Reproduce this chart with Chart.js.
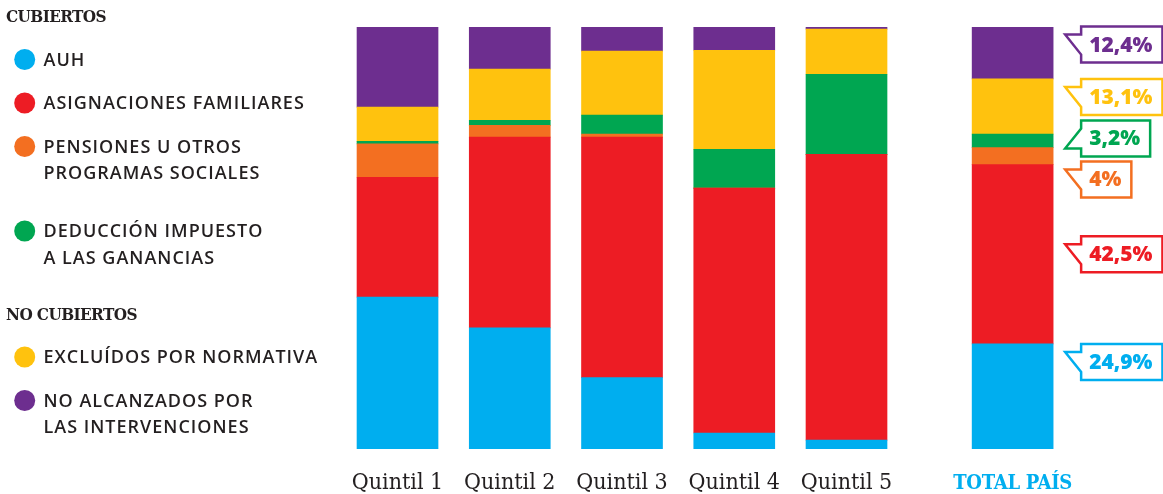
<!DOCTYPE html>
<html>
<head>
<meta charset="utf-8">
<script src="https://cdn.jsdelivr.net/npm/chart.js@4"></script>
<style>
  html, body { margin: 0; padding: 0; background: #fff; }
  #wrap { width: 1163px; height: 494px; position: relative; }
</style>
</head>
<body>
<div id="wrap"><canvas id="chart"></canvas></div>
<script>
// Categories (Total sits about one and a half slots after Quintil 5)
const categories = ['Quintil 1', 'Quintil 2', 'Quintil 3', 'Quintil 4', 'Quintil 5', 'TOTAL PAÍS'];
const categoryX = [0, 1, 2, 3, 4, 5.48];

// Series (% of each group), bottom to top
const auh          = [36.0, 28.7, 16.9,  3.8,  2.1, 24.9];
const asignaciones = [28.4, 45.2, 57.0, 58.0, 67.7, 42.5];
const pensiones    = [ 7.9,  2.8,  0.7,  0.0,  0.0,  4.0];
const deduccion    = [ 0.6,  1.2,  4.5,  9.2, 19.0,  3.2];
const excluidos    = [ 8.1, 12.1, 15.2, 23.5, 10.7, 13.1];
const noAlcanzados = [19.0, 10.0,  5.7,  5.5,  0.5, 12.4];

const seriesLabels = [
    ['AUH'],
    ['ASIGNACIONES FAMILIARES'],
    ['PENSIONES U OTROS', 'PROGRAMAS SOCIALES'],
    ['DEDUCCIÓN IMPUESTO', 'A LAS GANANCIAS'],
    ['EXCLUÍDOS POR NORMATIVA'],
    ['NO ALCANZADOS POR', 'LAS INTERVENCIONES']
];
const seriesColors = ['#00aeef', '#ed1c24', '#f36f21', '#00a651', '#ffc20e', '#6d2e8f'];
const legendGroups = [
    { title: 'CUBIERTOS', items: [0, 1, 2, 3] },
    { title: 'NO CUBIERTOS', items: [4, 5] }
];

const seriesValues = [auh, asignaciones, pensiones, deduccion, excluidos, noAlcanzados];
const TEXT = '#231f20';
const SLAB = '"DejaVu Serif Condensed", "DejaVu Serif", serif';

function fmtPct(v) {
    return String(v).replace('.', ',') + '%';
}

// Left-hand legend, drawn on the canvas
const legendPlugin = {
    id: 'sideLegend',
    afterDraw(chart) {
        const ctx = chart.ctx;
        ctx.save();
        ctx.textBaseline = 'middle';
        let y = 18;
        legendGroups.forEach(group => {
            ctx.fillStyle = TEXT;
            ctx.font = 'bold 17px ' + SLAB;
            ctx.letterSpacing = '-0.6px';
            ctx.fillText(group.title, 6, y);
            y += 41.5;
            group.items.forEach(idx => {
                const lines = seriesLabels[idx];
                ctx.fillStyle = seriesColors[idx];
                ctx.beginPath();
                ctx.arc(24.7, y, 10.5, 0, Math.PI * 2);
                ctx.fill();
                ctx.fillStyle = TEXT;
                ctx.font = '600 18px "Open Sans", sans-serif';
                ctx.letterSpacing = '1px';
                lines.forEach((line, l) => ctx.fillText(line, 43.5, y + l * 26.5 + 1));
                const last = y + (lines.length - 1) * 26.5;
                y = lines.length > 1 ? last + 58 : last + 43.5;
            });
        });
        ctx.restore();
    }
};

// Category labels under the bars
const xLabelsPlugin = {
    id: 'xLabels',
    afterDraw(chart) {
        const ctx = chart.ctx;
        const xs = chart.scales.x;
        ctx.save();
        ctx.textAlign = 'center';
        ctx.textBaseline = 'alphabetic';
        categories.forEach((c, k) => {
            const x = xs.getPixelForValue(categoryX[k]);
            if (k === categories.length - 1) {
                ctx.font = 'bold 20px ' + SLAB;
                ctx.letterSpacing = '-0.3px';
                ctx.fillStyle = '#00aeef';
            } else {
                ctx.font = '23px ' + SLAB;
                ctx.letterSpacing = '0px';
                ctx.fillStyle = TEXT;
            }
            ctx.fillText(c, x, chart.chartArea.bottom + 40);
        });
        ctx.restore();
    }
};

// Flag-shaped value labels next to the TOTAL PAÍS bar
const calloutPlugin = {
    id: 'callouts',
    afterDatasetsDraw(chart) {
        const ctx = chart.ctx;
        const boxH = 36, gap = 5;
        const last = categories.length - 1;
        const items = [];
        for (let i = seriesValues.length - 1; i >= 0; i--) {
            const el = chart.getDatasetMeta(i).data[last];
            const segTop = el.y, segBot = el.base;
            const want = (segBot - segTop) > boxH * 4 ? (segTop + segBot) / 2 - boxH / 2 : segTop;
            items.push({ i, want, top: want, barRight: el.x + el.width / 2 });
        }
        for (let iter = 0; iter < 50; iter++) {
            let moved = false;
            for (let k = 0; k < items.length - 1; k++) {
                const a = items[k], b = items[k + 1];
                const need = a.top + boxH + gap - b.top;
                if (need > 0.01) {
                    a.top -= need / 2;
                    b.top += need / 2;
                    moved = true;
                }
            }
            if (!moved) break;
        }

        ctx.save();
        ctx.font = '800 21px "Open Sans", sans-serif';
        ctx.textBaseline = 'middle';
        ctx.lineWidth = 2.5;
        ctx.lineJoin = 'miter';
        items.forEach(it => {
            const color = seriesColors[it.i];
            const label = fmtPct(seriesValues[it.i][last]);
            const tipX = it.barRight + 12;
            const boxX = it.barRight + 28;
            const textW = ctx.measureText(label).width;
            const boxR = boxX + 8 + textW + 10;
            const top = it.top, bot = it.top + boxH;
            const flipped = it.top < it.want - 1;

            ctx.beginPath();
            if (!flipped) {
                ctx.moveTo(boxX, top);
                ctx.lineTo(boxR, top);
                ctx.lineTo(boxR, bot);
                ctx.lineTo(boxX, bot);
                ctx.lineTo(boxX, top + 28);
                ctx.lineTo(tipX, top + 8);
                ctx.lineTo(boxX, top + 8);
            } else {
                ctx.moveTo(boxX, bot);
                ctx.lineTo(boxR, bot);
                ctx.lineTo(boxR, top);
                ctx.lineTo(boxX, top);
                ctx.lineTo(boxX, bot - 28);
                ctx.lineTo(tipX, bot - 8);
                ctx.lineTo(boxX, bot - 8);
            }
            ctx.closePath();
            ctx.fillStyle = '#fff';
            ctx.fill();
            ctx.strokeStyle = color;
            ctx.stroke();

            ctx.fillStyle = color;
            ctx.fillText(label, boxX + 8, top + boxH / 2 + 1);
        });
        ctx.restore();
    }
};

const datasets = seriesValues.map((vals, i) => ({
    label: seriesLabels[i].join(' '),
    data: categoryX.map((x, k) => ({ x: x, y: vals[k] })),
    backgroundColor: seriesColors[i],
    borderWidth: 0,
    barThickness: 81
}));

new Chart(document.getElementById('chart'), {
    type: 'bar',
    data: { datasets: datasets },
    options: {
        responsive: true,
        maintainAspectRatio: false,
        animation: false,
        layout: { padding: { left: 341.4, right: 92, top: 27, bottom: 45 } },
        plugins: {
            legend: { display: false },
            tooltip: { enabled: false }
        },
        scales: {
            x: { type: 'linear', stacked: true, min: -0.5, max: 6, offset: false, display: false },
            y: { stacked: true, min: 0, max: 100, display: false }
        }
    },
    plugins: [legendPlugin, xLabelsPlugin, calloutPlugin]
});
</script>
</body>
</html>
